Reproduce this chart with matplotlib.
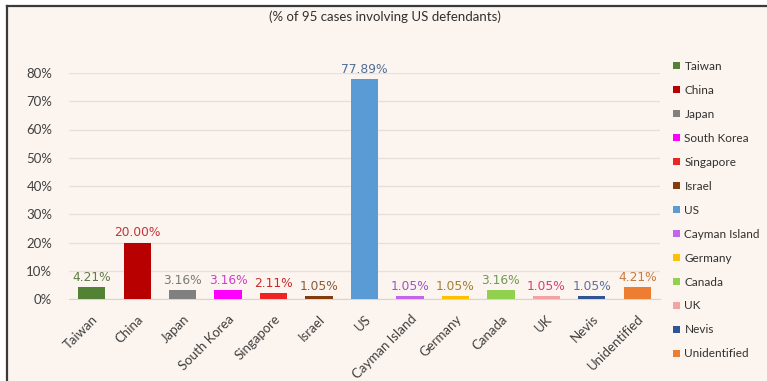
import matplotlib
matplotlib.use("Agg")
import matplotlib.pyplot as plt
from matplotlib.patches import Patch, Rectangle
from matplotlib.lines import Line2D
from matplotlib.ticker import PercentFormatter

plt.rcParams['font.family'] = ['Lato', 'DejaVu Sans']

categories = ["Taiwan", "China", "Japan", "South Korea", "Singapore", "Israel", "US",
              "Cayman Island", "Germany", "Canada", "UK", "Nevis", "Unidentified"]
shares = [4.21, 20.00, 3.16, 3.16, 2.11, 1.05, 77.89, 1.05, 1.05, 3.16, 1.05, 1.05, 4.21]
bar_colors = ["#548235", "#b80000", "#808080", "#ff00ff", "#ee2424", "#843c0c", "#5b9bd5",
              "#c564ee", "#ffc000", "#92d050", "#f4a3a3", "#2f5597", "#ed7d31"]
label_colors = ["#5f7d45", "#c0353a", "#7a7a7a", "#d23ad2", "#cc2a2a", "#8a5a35", "#4f6f95",
                "#9a55c8", "#a08030", "#6e9a50", "#d0407a", "#5a70a0", "#c87a3a"]
subtitle = "(% of 95 cases involving US defendants)"

W, H = 767, 381
fig = plt.figure(figsize=(W / 100, H / 100), dpi=100)
fig.patch.set_facecolor("white")

# cream panel with dark frame on top and left
bg = "#fcf4ee"
fig.patches.append(Rectangle((7 / W, 0), 1 - 7 / W, 1 - 6 / H, transform=fig.transFigure,
                             facecolor=bg, edgecolor="none", zorder=-10))
fig.lines.append(Line2D([7 / W, 1], [1 - 6 / H, 1 - 6 / H], transform=fig.transFigure,
                        color="#3a3a3a", lw=1.6))
fig.lines.append(Line2D([7 / W, 7 / W], [0, 1 - 6 / H], transform=fig.transFigure,
                        color="#3a3a3a", lw=1.6))

ax = fig.add_axes([69 / W, 82 / H, (660 - 69) / W, (299 - 73) / H])
ax.set_facecolor(bg)
x = list(range(len(categories)))
bars = ax.bar(x, shares, width=0.6, color=bar_colors, zorder=3)

for xi, v, c in zip(x, shares, label_colors):
    ax.text(xi, v + 1.2, f"{v:.2f}%", ha="center", va="bottom", fontsize=8.8,
            color=c, family=["DejaVu Sans"], zorder=4)

ax.set_xlim(-0.5, len(categories) - 0.5)
ax.set_ylim(0, 80)
ax.set_yticks(range(0, 81, 10))
ax.yaxis.set_major_formatter(PercentFormatter(decimals=0))
ax.set_xticks(x)
ax.set_xticklabels(categories, rotation=45, ha="right", rotation_mode="anchor")
ax.tick_params(axis="both", length=0, labelsize=9.5, colors="#404040")
ax.tick_params(axis="x", pad=10)
ax.tick_params(axis="y", pad=12)
ax.grid(axis="y", color="#e4e0dc", lw=0.9, zorder=0)
for s in ["top", "right", "left"]:
    ax.spines[s].set_visible(False)
ax.spines["bottom"].set_color("#d8d4d0")

fig.text(385 / W, 1 - 17 / H, subtitle, ha="center", va="center", fontsize=9.5,
         color="#303030")

handles = [Patch(facecolor=c, edgecolor="none") for c in bar_colors]
fig.legend(handles, categories, loc="upper left", bbox_to_anchor=(662 / W, 1 - 50 / H),
           frameon=False, fontsize=8.5, handlelength=0.6, handleheight=0.6,
           handletextpad=0.4, labelspacing=1.1, labelcolor="#303030")

fig.savefig("out.png", dpi=100, facecolor=fig.get_facecolor())
